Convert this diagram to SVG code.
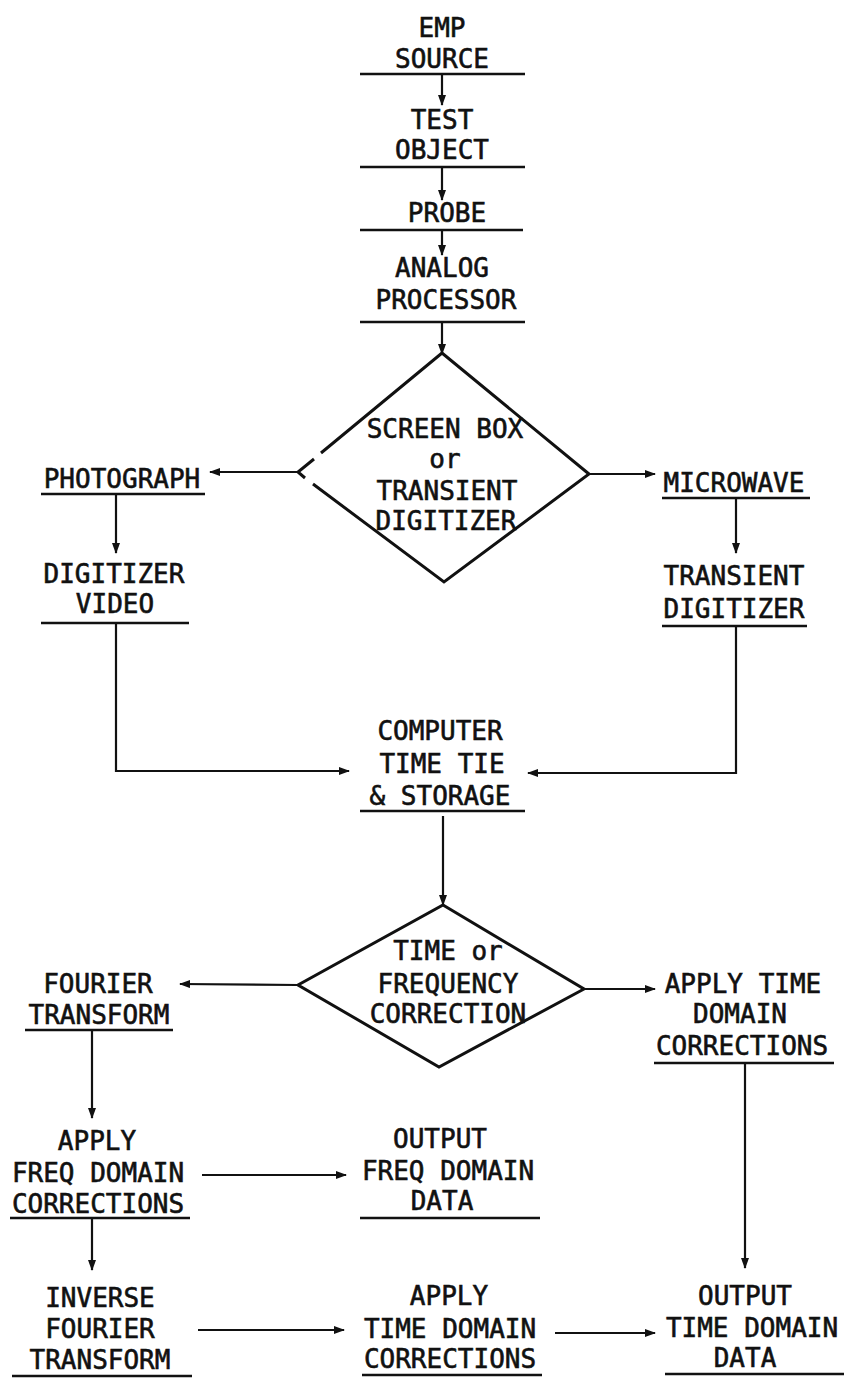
<svg xmlns="http://www.w3.org/2000/svg" width="844" height="1378" viewBox="0 0 844 1378">
<style>
text{font-family:"DejaVu Sans Mono","Liberation Mono",monospace;font-size:26px;fill:#111;stroke:#111;stroke-width:0.6;text-anchor:middle}
.ul{stroke:#111;stroke-width:2.5;fill:none}
.c{stroke:#111;stroke-width:2.2;fill:none}
.d{stroke:#111;stroke-width:3;fill:none;stroke-linejoin:miter}
</style>
<defs>
<marker id="ah" markerUnits="userSpaceOnUse" markerWidth="11" markerHeight="8" refX="10" refY="4" orient="auto">
<path d="M0,0 L11,4 L0,8 z" fill="#111"/>
</marker>
</defs>
<rect width="844" height="1378" fill="#fff"/>

<g id="emp-source"><text x="442" y="37">EMP</text><text x="442" y="68">SOURCE</text><line class="ul" x1="360" y1="74" x2="525" y2="74"/></g>
<g id="test-object"><text x="442" y="129">TEST</text><text x="442" y="159">OBJECT</text><line class="ul" x1="360" y1="167" x2="525" y2="167"/></g>
<g id="probe"><text x="447" y="222">PROBE</text><line class="ul" x1="360" y1="230" x2="523" y2="230"/></g>
<g id="analog-processor"><text x="442" y="277">ANALOG</text><text x="446" y="309">PROCESSOR</text><line class="ul" x1="360" y1="322" x2="525" y2="322"/></g>

<g id="decision-1">
<path class="d" d="M321,453 L442,353 L589,474 L444,582 L313,484"/>
<path class="d" d="M314,459 L298,472 L305,478"/>
<text x="445" y="438">SCREEN BOX</text><text x="445" y="468">or</text><text x="447" y="500">TRANSIENT</text><text x="446" y="530">DIGITIZER</text>
</g>

<g id="photograph"><text x="122" y="488">PHOTOGRAPH</text><line class="ul" x1="41" y1="494" x2="205" y2="494"/></g>
<g id="digitizer-video"><text x="114" y="583">DIGITIZER</text><text x="115" y="613">VIDEO</text><line class="ul" x1="41" y1="623" x2="189" y2="623"/></g>
<g id="microwave"><text x="734" y="492">MICROWAVE</text><line class="ul" x1="662" y1="498" x2="810" y2="498"/></g>
<g id="transient-digitizer"><text x="734" y="585">TRANSIENT</text><text x="734" y="618">DIGITIZER</text><line class="ul" x1="662" y1="626" x2="807" y2="626"/></g>

<g id="computer"><text x="440" y="740">COMPUTER</text><text x="442" y="773">TIME TIE</text><text x="440" y="805">&amp; STORAGE</text><line class="ul" x1="360" y1="811" x2="525" y2="811"/></g>

<g id="decision-2">
<path class="d" d="M443,905 L584,989 L439,1067 L298,985 Z"/>
<text x="448" y="960">TIME or</text><text x="448" y="993">FREQUENCY</text><text x="448" y="1023">CORRECTION</text>
</g>

<g id="fourier-transform"><text x="98" y="993">FOURIER</text><text x="99" y="1024">TRANSFORM</text><line class="ul" x1="25" y1="1030" x2="173" y2="1030"/></g>
<g id="apply-time-domain-right"><text x="743" y="993">APPLY TIME</text><text x="740" y="1023">DOMAIN</text><text x="742" y="1055">CORRECTIONS</text><line class="ul" x1="654" y1="1063" x2="834" y2="1063"/></g>
<g id="apply-freq-domain"><text x="97" y="1150">APPLY</text><text x="98" y="1182">FREQ DOMAIN</text><text x="98" y="1213">CORRECTIONS</text><line class="ul" x1="10" y1="1218" x2="190" y2="1218"/></g>
<g id="output-freq-domain"><text x="440" y="1148">OUTPUT</text><text x="448" y="1180">FREQ DOMAIN</text><text x="442" y="1210">DATA</text><line class="ul" x1="360" y1="1218" x2="540" y2="1218"/></g>
<g id="inverse-fourier"><text x="100" y="1307">INVERSE</text><text x="100" y="1338">FOURIER</text><text x="100" y="1369">TRANSFORM</text><line class="ul" x1="12" y1="1376" x2="192" y2="1376"/></g>
<g id="apply-time-domain-bottom"><text x="449" y="1305">APPLY</text><text x="450" y="1338">TIME DOMAIN</text><text x="450" y="1368">CORRECTIONS</text><line class="ul" x1="362" y1="1375" x2="542" y2="1375"/></g>
<g id="output-time-domain"><text x="745" y="1305">OUTPUT</text><text x="752" y="1337">TIME DOMAIN</text><text x="745" y="1367">DATA</text><line class="ul" x1="665" y1="1374" x2="844" y2="1374"/></g>

<g id="connectors">
<line class="c" x1="442" y1="74" x2="442" y2="105" marker-end="url(#ah)"/>
<line class="c" x1="442" y1="167" x2="442" y2="200" marker-end="url(#ah)"/>
<line class="c" x1="442" y1="230" x2="442" y2="255" marker-end="url(#ah)"/>
<line class="c" x1="442" y1="322" x2="442" y2="354" marker-end="url(#ah)"/>
<line class="c" x1="298" y1="472" x2="210" y2="472" marker-end="url(#ah)"/>
<line class="c" x1="589" y1="474" x2="655" y2="474" marker-end="url(#ah)"/>
<line class="c" x1="116" y1="494" x2="116" y2="553" marker-end="url(#ah)"/>
<line class="c" x1="736" y1="498" x2="736" y2="553" marker-end="url(#ah)"/>
<polyline class="c" points="116,623 116,771 349,771" marker-end="url(#ah)"/>
<polyline class="c" points="736,626 736,773 528,773" marker-end="url(#ah)"/>
<line class="c" x1="443" y1="816" x2="443" y2="905" marker-end="url(#ah)"/>
<line class="c" x1="298" y1="985" x2="180" y2="984" marker-end="url(#ah)"/>
<line class="c" x1="584" y1="989" x2="655" y2="989" marker-end="url(#ah)"/>
<line class="c" x1="92" y1="1030" x2="92" y2="1118" marker-end="url(#ah)"/>
<line class="c" x1="745" y1="1063" x2="745" y2="1268" marker-end="url(#ah)"/>
<line class="c" x1="202" y1="1175" x2="346" y2="1175" marker-end="url(#ah)"/>
<line class="c" x1="92" y1="1218" x2="92" y2="1270" marker-end="url(#ah)"/>
<line class="c" x1="198" y1="1330" x2="344" y2="1330" marker-end="url(#ah)"/>
<line class="c" x1="555" y1="1333" x2="655" y2="1333" marker-end="url(#ah)"/>
</g>
</svg>
